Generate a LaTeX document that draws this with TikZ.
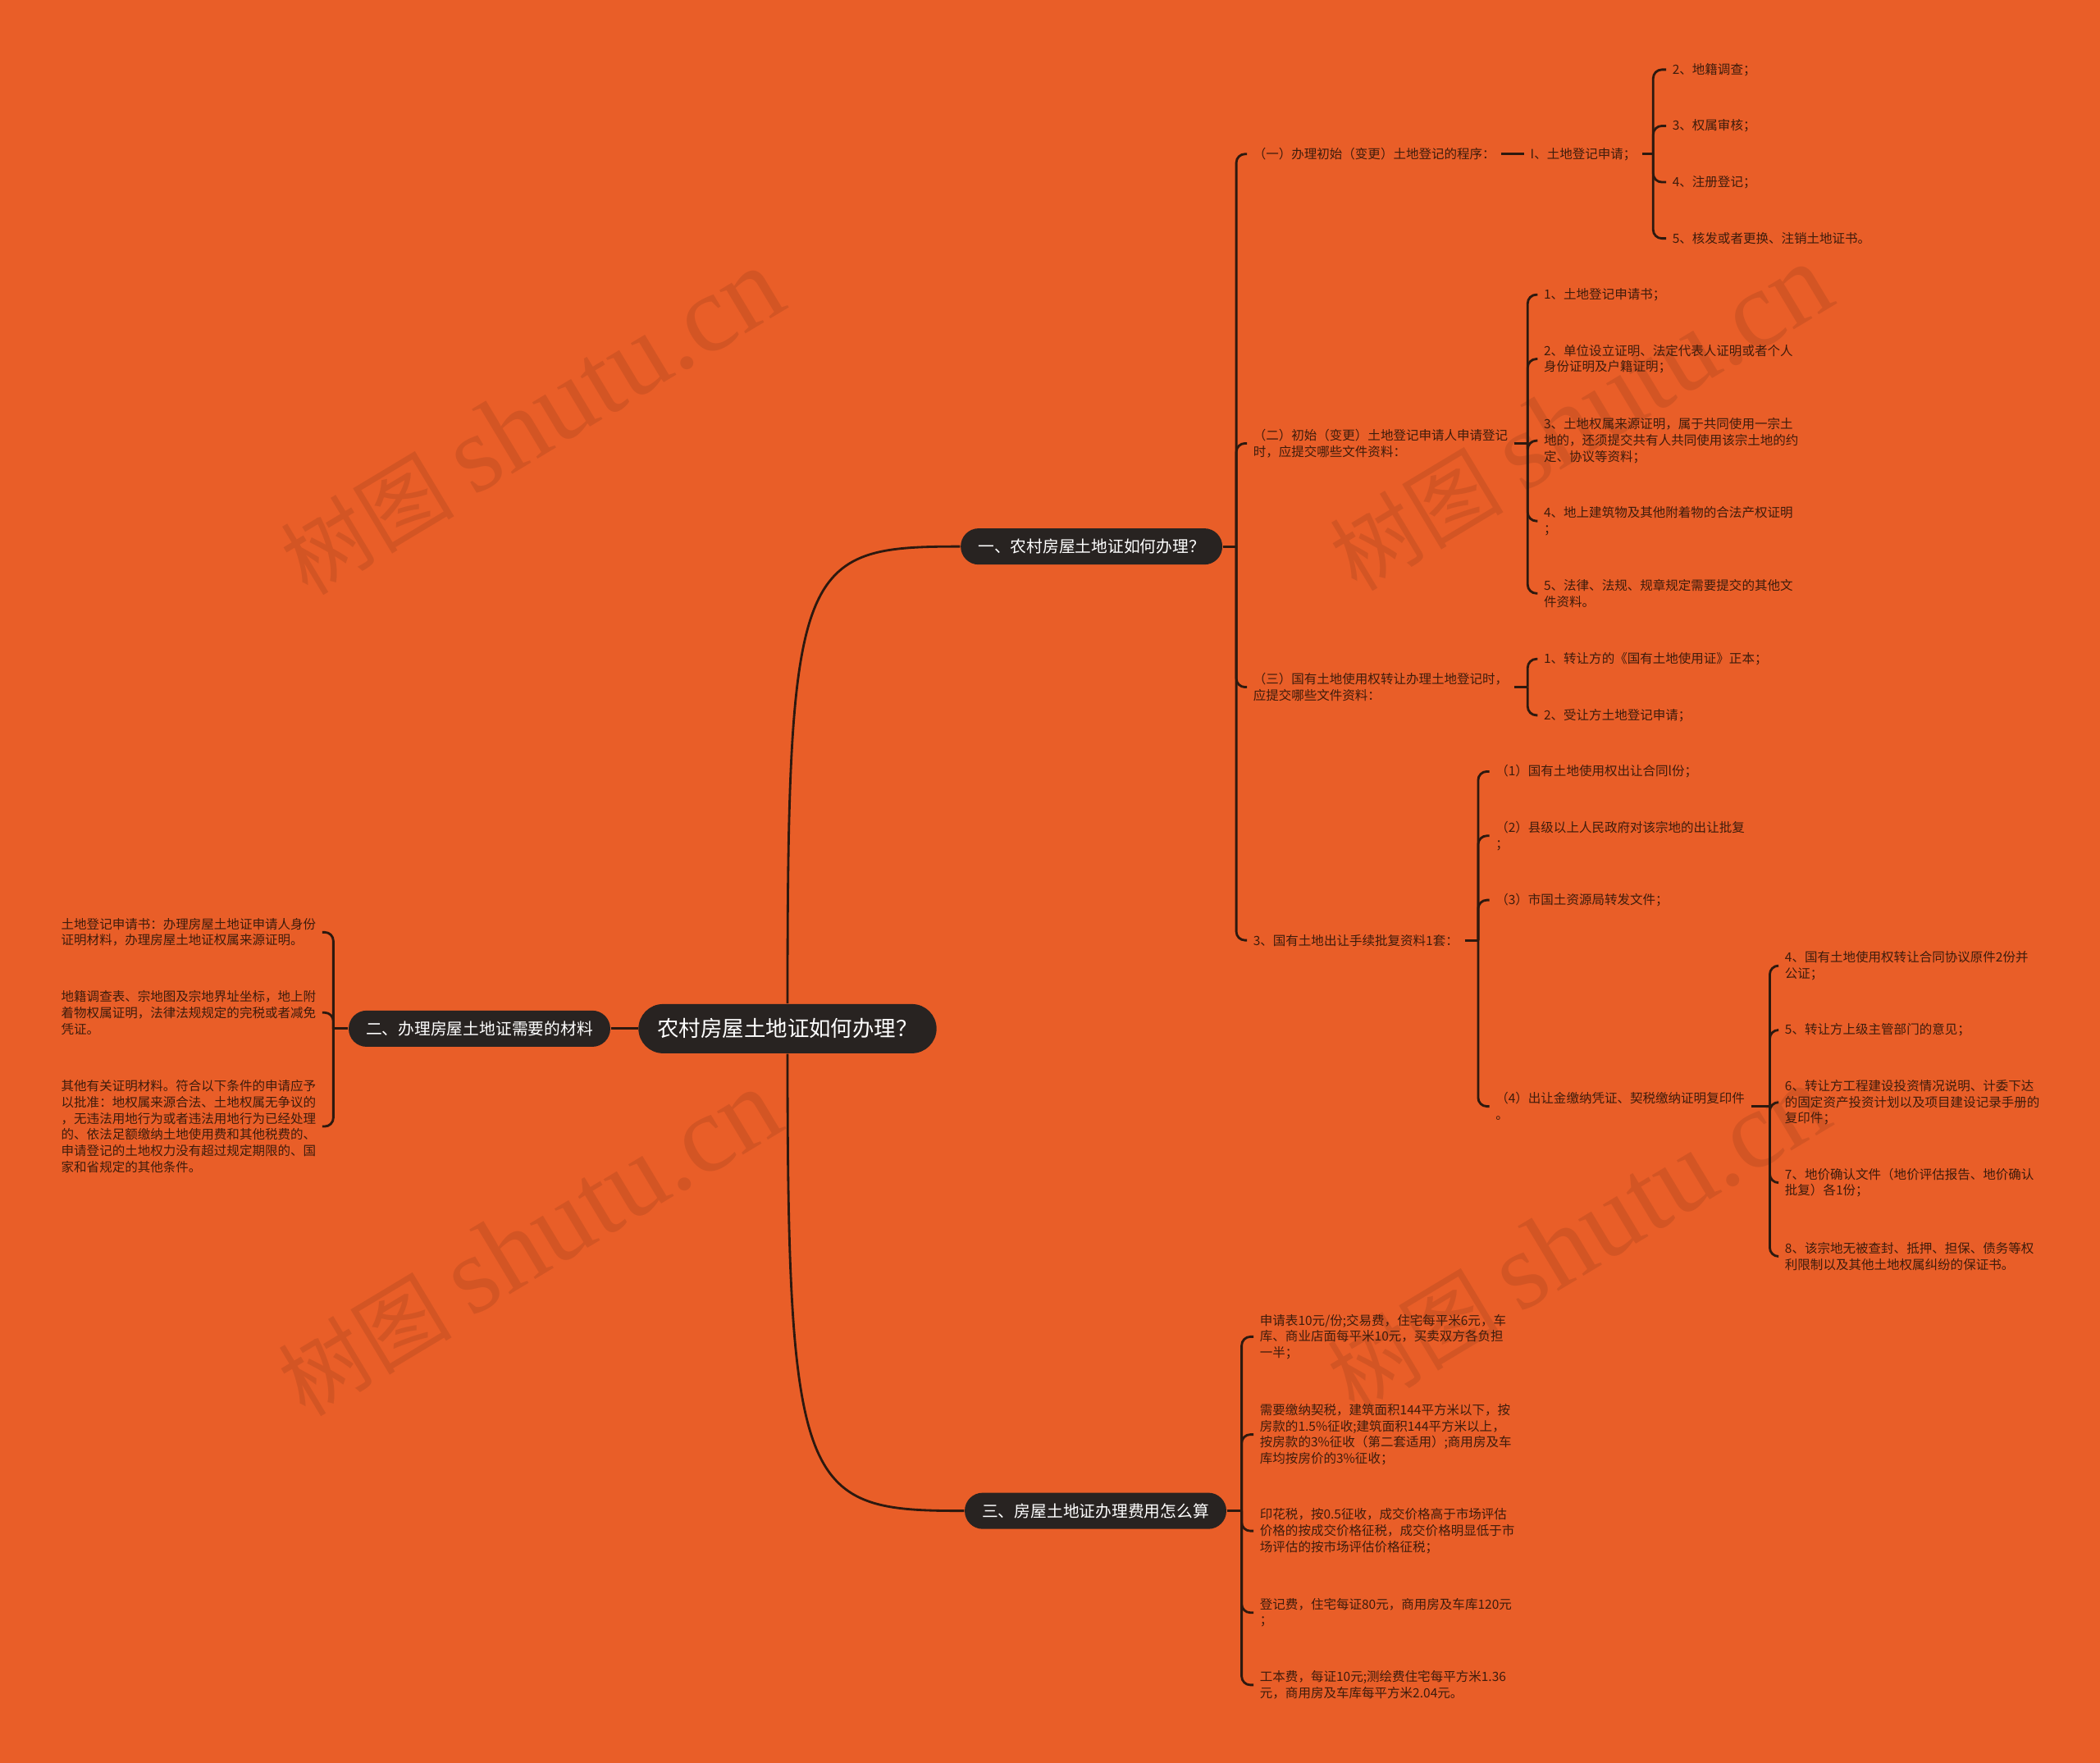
\documentclass[tikz,border=0pt]{standalone}
\usepackage{fontspec}
\setmainfont{Noto Sans CJK SC}
\newfontfamily\wmserif{Liberation Serif}

\definecolor{bg}{RGB}{233,94,40}
\definecolor{pill}{RGB}{40,35,33}
\definecolor{ink}{RGB}{62,28,12}
\definecolor{wire}{RGB}{45,25,15}

\tikzset{
  root/.style={fill=pill, text=white, rounded corners=8.5pt, minimum height=17pt,
    inner xsep=6.5pt, font=\fontsize{7.5}{9}\selectfont},
  topic/.style={fill=pill, text=white, rounded corners=6.2pt, minimum height=12.5pt,
    inner xsep=6pt, font=\fontsize{5.6}{7}\selectfont},
  leaf/.style={text=ink, align=left, anchor=west, inner xsep=2pt, inner ysep=1pt,
    font=\fontsize{4.4}{5.6}\selectfont},
  link/.style={draw=wire, line width=0.8pt},
  hook/.style={link, rounded corners=3pt},
  wmark/.style={text=black, opacity=0.09, rotate=31, font=\fontsize{30}{30}\selectfont},
}

\begin{document}
\begin{tikzpicture}[x=0.4628pt, y=-0.4628pt]
  \fill[bg] (0,0) rectangle (1568,1316);
  \useasboundingbox (0,0) rectangle (1568,1316);

  % watermark
  \foreach \wx/\wy [count=\i] in {397/315, 1180/312, 395/928, 1178/925}
    \node[wmark] (wm\i) at (\wx,\wy) {树图 {\wmserif\fontsize{38}{38}\selectfont shutu.cn}};

  % centre and main topics
  \node[root]  (root) at (588,768)  {农村房屋土地证如何办理？};
  \node[topic] (t1)   at (815,408)  {一、农村房屋土地证如何办理？};
  \node[topic] (t2)   at (358,768)  {二、办理房屋土地证需要的材料};
  \node[topic] (t3)   at (818,1128) {三、房屋土地证办理费用怎么算};

  \draw[link] (root.north) .. controls +(0,-330) and +(-119,0) .. (t1.west);
  \draw[link] (root.south) .. controls +(0,330) and +(-119,0) .. (t3.west);
  \draw[link] (root.west) -- (t2.east);

  % branch one
  \node[leaf] (a1) at (931,115) {（一）办理初始（变更）土地登记的程序：};
  \node[leaf] (a2) at (931,331) {（二）初始（变更）土地登记申请人申请登记\\时，应提交哪些文件资料：};
  \node[leaf] (a3) at (931,513) {（三）国有土地使用权转让办理土地登记时，\\应提交哪些文件资料：};
  \node[leaf] (a4) at (931,702) {3、国有土地出让手续批复资料1套：};

  \node[leaf] (b1) at (1138,115) {I、土地登记申请；};

  \node[leaf] (c1) at (1244,52)  {2、地籍调查；};
  \node[leaf] (c2) at (1244,94)  {3、权属审核；};
  \node[leaf] (c3) at (1244,136) {4、注册登记；};
  \node[leaf] (c4) at (1244,178) {5、核发或者更换、注销土地证书。};

  \node[leaf] (d1) at (1148,220) {1、土地登记申请书；};
  \node[leaf] (d2) at (1148,268) {2、单位设立证明、法定代表人证明或者个人\\身份证明及户籍证明；};
  \node[leaf] (d3) at (1148,329) {3、土地权属来源证明，属于共同使用一宗土\\地的，还须提交共有人共同使用该宗土地的约\\定、协议等资料；};
  \node[leaf] (d4) at (1148,389) {4、地上建筑物及其他附着物的合法产权证明\\；};
  \node[leaf] (d5) at (1148,443) {5、法律、法规、规章规定需要提交的其他文\\件资料。};

  \node[leaf] (e1) at (1148,492) {1、转让方的《国有土地使用证》正本；};
  \node[leaf] (e2) at (1148,534) {2、受让方土地登记申请；};

  \node[leaf] (f1) at (1112,576) {（1）国有土地使用权出让合同l份；};
  \node[leaf] (f2) at (1112,624) {（2）县级以上人民政府对该宗地的出让批复\\；};
  \node[leaf] (f3) at (1112,672) {（3）市国土资源局转发文件；};
  \node[leaf] (f4) at (1112,826) {（4）出让金缴纳凭证、契税缴纳证明复印件\\。};

  \node[leaf] (g1) at (1328,721) {4、国有土地使用权转让合同协议原件2份并\\公证；};
  \node[leaf] (g2) at (1328,769) {5、转让方上级主管部门的意见；};
  \node[leaf] (g3) at (1328,823) {6、转让方工程建设投资情况说明、计委下达\\的固定资产投资计划以及项目建设记录手册的\\复印件；};
  \node[leaf] (g4) at (1328,883) {7、地价确认文件（地价评估报告、地价确认\\批复）各1份；};
  \node[leaf] (g5) at (1328,938) {8、该宗地无被查封、抵押、担保、债务等权\\利限制以及其他土地权属纠纷的保证书。};

  \draw[link] (t1.east) -- ++(10,0) coordinate (j1);
  \foreach \c in {a1,a2,a3,a4} \draw[hook] (j1) |- (\c.west);
  \draw[link] (a1) -- (b1);
  \draw[link] (b1.east) -- ++(8,0) coordinate (jb);
  \foreach \c in {c1,c2,c3,c4} \draw[hook] (jb) |- (\c.west);
  \draw[link] (a2.east) -- ++(10,0) coordinate (ja2);
  \foreach \c in {d1,d2,d3,d4,d5} \draw[hook] (ja2) |- (\c.west);
  \draw[link] (a3.east) -- ++(10,0) coordinate (ja3);
  \foreach \c in {e1,e2} \draw[hook] (ja3) |- (\c.west);
  \draw[link] (a4.east) -- ++(10,0) coordinate (ja4);
  \foreach \c in {f1,f2,f3,f4} \draw[hook] (ja4) |- (\c.west);
  \draw[link] (f4.east) -- ++(14,0) coordinate (jf4);
  \foreach \c in {g1,g2,g3,g4,g5} \draw[hook] (jf4) |- (\c.west);

  % branch two
  \node[leaf] (k1) at (41,696) {土地登记申请书：办理房屋土地证申请人身份\\证明材料，办理房屋土地证权属来源证明。};
  \node[leaf] (k2) at (41,756) {地籍调查表、宗地图及宗地界址坐标，地上附\\着物权属证明，法律法规规定的完税或者减免\\凭证。};
  \node[leaf] (k3) at (41,841) {其他有关证明材料。符合以下条件的申请应予\\以批准：地权属来源合法、土地权属无争议的\\，无违法用地行为或者违法用地行为已经处理\\的、依法足额缴纳土地使用费和其他税费的、\\申请登记的土地权力没有超过规定期限的、国\\家和省规定的其他条件。};

  \draw[link] (t2.west) -- ++(-11,0) coordinate (j2);
  \foreach \c in {k1,k2,k3} \draw[hook] (j2) |- (\c.east);

  % branch three
  \node[leaf] (h1) at (936,998)  {申请表10元/份;交易费，住宅每平米6元，车\\库、商业店面每平米10元，买卖双方各负担\\一半；};
  \node[leaf] (h2) at (936,1071) {需要缴纳契税，建筑面积144平方米以下，按\\房款的1.5\%征收;建筑面积144平方米以上，\\按房款的3\%征收（第二套适用）;商用房及车\\库均按房价的3\%征收；};
  \node[leaf] (h3) at (936,1143) {印花税，按0.5征收，成交价格高于市场评估\\价格的按成交价格征税，成交价格明显低于市\\场评估的按市场评估价格征税；};
  \node[leaf] (h4) at (936,1204) {登记费，住宅每证80元，商用房及车库120元\\；};
  \node[leaf] (h5) at (936,1258) {工本费，每证10元;测绘费住宅每平方米1.36\\元，商用房及车库每平方米2.04元。};

  \draw[link] (t3.east) -- ++(11,0) coordinate (j3);
  \foreach \c in {h1,h2,h3,h4,h5} \draw[hook] (j3) |- (\c.west);
\end{tikzpicture}
\end{document}
